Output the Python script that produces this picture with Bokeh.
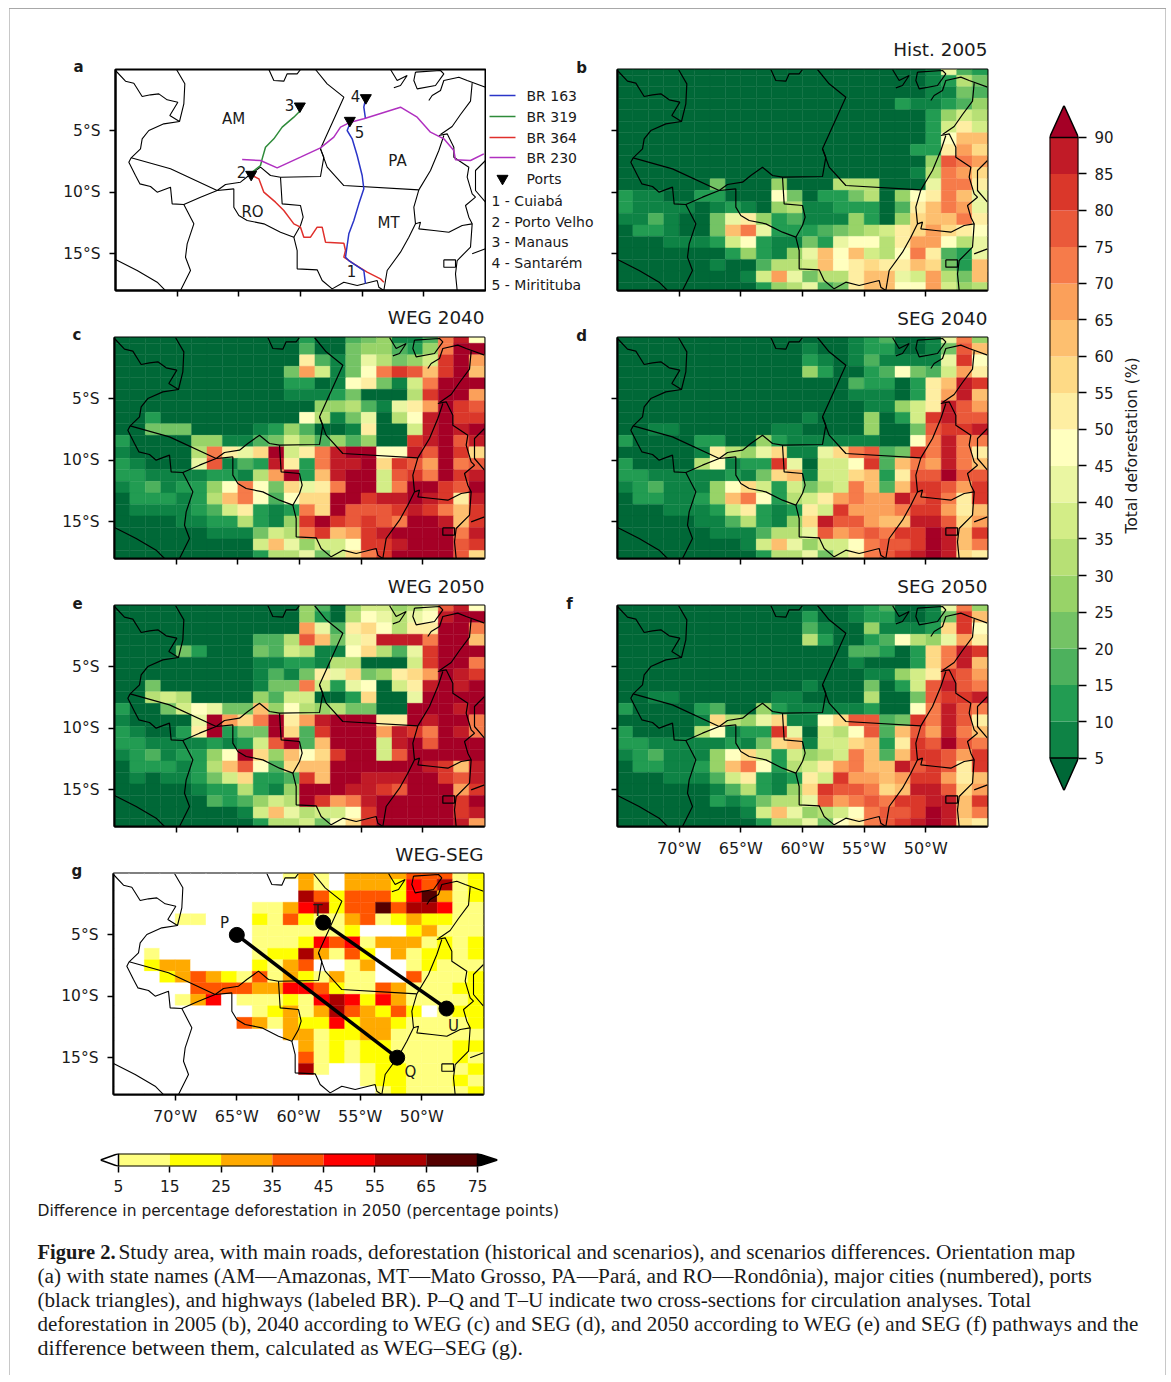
import numpy as np
from bokeh.plotting import figure
from bokeh.layouts import column, row
from bokeh.models import Range1d, FixedTicker, Label, Title
from bokeh.core.properties import value
from bokeh.embed import file_html
from bokeh.resources import INLINE

LON_TICKS = [-70, -65, -60, -55, -50]
LAT_TICKS = [-5, -10, -15]
LON_LABELS = ["70°W", "65°W", "60°W", "55°W", "50°W"]
LAT_LABELS = ["5°S", "10°S", "15°S"]
LEVELS = [5, 10, 15, 20, 25, 30, 35, 40, 45, 50, 55, 60, 65, 70, 75, 80, 85, 90]
DIFF_LEVELS = [5, 15, 25, 35, 45, 55, 65, 75]
DIFF_COLORS = ["#ffffff", "#ffff80", "#ffff00", "#ffaa00", "#ff5500", "#ff0000", "#aa0000", "#550000", "#000000"]
RDYLGN = ["#006837", "#1a9850", "#66bd63", "#a6d96a", "#d9ef8b", "#ffffbf", "#fee08b", "#fdae61", "#f46d43", "#d73027", "#a50026"]

HIST_2005 = [
[3,3,3,3,3,3,3,3,3,3,3,3,3,3,3,3,3,3,3,3,8,43,18,13],
[3,3,3,3,3,3,3,3,3,3,3,3,3,3,3,3,3,3,3,3,8,13,33,23],
[3,3,3,3,3,3,3,3,3,3,3,3,3,3,3,3,3,3,3,3,8,8,23,18],
[3,3,3,3,3,3,3,3,3,3,3,3,3,3,3,3,3,3,13,8,8,13,18,28],
[3,3,3,3,3,3,3,3,3,3,3,3,3,3,3,3,3,3,3,3,13,28,38,33],
[3,3,3,3,3,3,3,3,3,3,3,3,3,3,3,3,3,3,3,3,13,38,53,38],
[3,3,3,3,3,3,3,3,3,3,3,3,3,3,3,3,3,3,3,3,13,48,63,63],
[3,3,3,3,3,3,3,3,3,3,3,3,3,3,3,3,3,3,3,13,13,53,68,58],
[3,3,3,3,3,3,3,3,3,3,3,3,3,3,3,3,3,3,3,3,28,78,73,68],
[3,3,3,3,3,3,3,3,3,3,3,3,3,3,3,3,3,3,3,8,33,73,68,58],
[3,3,3,3,3,3,23,3,3,3,28,3,3,3,33,33,33,3,3,3,43,73,73,53],
[13,8,8,3,3,13,13,3,3,3,48,23,3,13,13,20,33,3,28,48,53,73,63,43],
[13,8,8,8,8,3,8,13,8,3,28,33,8,8,13,13,13,3,18,53,63,73,68,43],
[8,8,18,8,3,3,23,43,53,28,13,18,8,8,8,28,13,3,28,58,63,63,73,53],
[3,13,13,8,3,3,23,63,73,43,13,13,13,18,23,28,33,38,53,58,68,58,53,48],
[3,3,3,8,8,8,13,38,48,13,8,8,23,13,43,48,48,33,53,68,68,48,33,43],
[3,3,3,3,3,3,3,13,28,13,8,28,43,63,48,63,38,33,48,73,53,18,13,43],
[3,3,3,3,3,3,8,3,3,18,33,33,38,63,48,53,58,53,53,63,58,23,13,63],
[3,3,3,3,3,3,3,3,8,38,68,43,23,33,33,53,63,60,43,38,68,33,23,63],
[3,3,3,3,3,3,3,3,3,13,28,33,43,18,23,53,60,63,48,48,68,38,28,33],
]
WEG_2040 = [
[3,3,3,3,3,3,3,3,3,3,3,3,13,3,3,18,23,28,8,8,18,73,88,48],
[3,3,3,3,3,3,3,3,3,3,3,3,18,3,3,23,28,28,18,13,28,73,93,93],
[3,3,3,3,3,3,3,3,3,3,3,3,53,18,8,23,43,33,23,28,38,83,93,68],
[3,3,3,3,3,3,3,3,3,3,3,23,68,38,8,23,48,73,83,78,63,83,93,63],
[3,3,3,3,3,3,3,3,3,3,3,13,13,3,8,48,53,23,8,38,73,93,93,93],
[3,3,3,3,3,3,3,3,3,3,3,8,8,8,13,23,3,3,3,33,83,93,93,68],
[3,3,3,3,3,3,3,3,3,3,3,3,3,28,28,30,18,8,43,53,68,93,83,78],
[3,3,13,3,3,3,3,3,3,3,3,3,48,33,8,23,43,3,33,48,88,93,83,83],
[3,3,23,23,23,3,3,3,3,8,13,28,18,3,3,8,53,3,3,38,88,93,88,93],
[13,3,3,3,3,28,28,8,8,18,23,38,28,18,28,18,28,3,3,83,88,93,78,88],
[8,3,3,3,3,33,73,53,43,58,93,38,53,73,88,93,93,48,48,88,78,93,83,58],
[13,8,3,3,3,43,78,8,18,13,88,53,13,73,88,88,93,58,83,78,68,93,73,78],
[13,13,8,8,8,8,13,13,8,33,68,93,13,60,88,93,93,38,78,83,73,93,83,88],
[8,13,18,8,13,13,28,48,73,48,20,58,43,53,73,93,93,38,73,93,93,83,78,93],
[3,13,13,13,8,13,33,63,73,48,18,48,58,58,93,93,83,88,88,93,88,83,53,88],
[3,8,8,8,8,13,18,38,53,13,8,13,73,58,93,78,78,78,83,88,83,73,63,83],
[3,3,3,3,8,8,13,13,33,13,8,28,83,93,83,78,83,78,73,93,93,88,63,83],
[3,3,3,3,3,3,8,8,8,23,38,33,73,83,63,68,83,88,93,93,93,93,73,88],
[3,3,3,3,3,3,3,3,3,38,63,43,28,38,38,48,83,83,88,93,93,93,78,83],
[3,3,3,3,3,3,3,3,3,13,33,33,43,23,38,58,73,83,93,93,93,93,78,58],
]
SEG_2040 = [
[3,3,3,3,3,3,3,3,3,3,3,3,3,3,3,8,13,18,3,3,8,43,73,28],
[3,3,3,3,3,3,3,3,3,3,3,3,8,3,3,8,13,13,3,3,8,23,78,63],
[3,3,3,3,3,3,3,3,3,3,3,3,13,8,3,8,18,8,8,8,8,43,83,48],
[3,3,3,3,3,3,3,3,3,3,3,3,28,13,3,3,13,18,48,23,18,38,68,53],
[3,3,3,3,3,3,3,3,3,3,3,3,3,3,3,18,13,13,3,13,53,63,88,83],
[3,3,3,3,3,3,3,3,3,3,3,3,3,3,3,8,8,8,3,13,53,68,88,63],
[3,3,3,3,3,3,3,3,3,3,3,3,3,3,3,3,8,8,28,38,53,88,78,68],
[3,3,3,3,3,3,3,3,3,3,3,3,8,3,3,3,28,3,13,38,83,88,78,78],
[3,3,8,8,3,3,3,3,3,3,8,8,3,3,3,3,28,3,3,23,78,83,83,88],
[13,3,3,3,3,13,13,3,3,28,13,8,8,8,8,8,8,3,3,48,73,88,73,73],
[3,3,3,3,3,8,53,33,28,43,58,8,8,43,58,73,78,18,23,83,73,88,73,53],
[13,3,3,3,3,33,48,8,13,13,83,43,3,38,38,48,83,18,63,73,68,88,73,63],
[13,13,8,8,8,8,8,13,8,23,58,63,8,38,38,58,63,13,53,78,78,93,78,78],
[8,13,18,8,8,8,28,48,58,38,13,38,23,33,38,73,63,18,63,83,83,78,68,83],
[3,13,13,8,8,13,28,63,73,48,13,33,38,53,68,73,68,68,88,78,83,73,53,83],
[3,3,3,8,8,8,13,38,53,13,8,13,53,38,83,68,68,68,73,83,83,68,53,63],
[3,3,3,3,3,8,8,18,33,13,8,28,58,88,78,78,68,63,63,88,88,78,58,68],
[3,3,3,3,3,3,8,8,8,18,33,33,43,78,68,73,78,73,83,83,93,88,63,83],
[3,3,3,3,3,3,3,3,8,38,63,43,28,38,38,48,73,78,78,83,93,88,63,73],
[3,3,3,3,3,3,3,3,3,13,33,33,43,23,38,53,73,78,83,88,93,88,58,53],
]
WEG_2050 = [
[3,3,3,3,3,3,3,3,3,3,3,3,28,18,3,28,38,38,28,33,43,78,88,48],
[3,3,3,3,3,3,3,3,3,3,3,3,28,13,3,33,48,43,33,43,48,88,93,93],
[3,3,3,3,3,3,3,3,3,3,3,3,68,43,18,53,58,48,33,53,53,93,93,73],
[3,3,3,3,3,3,3,3,3,18,18,33,78,63,23,43,53,88,88,88,73,93,93,63],
[3,3,3,3,20,13,3,3,3,23,18,38,30,8,8,48,58,30,18,40,83,93,93,93],
[3,3,3,3,3,3,3,3,3,8,8,13,13,8,30,30,3,3,3,38,83,93,93,73],
[3,3,3,3,3,3,3,3,3,8,18,8,23,53,43,58,23,28,53,58,68,93,88,83],
[3,3,23,3,3,3,3,3,3,8,23,23,73,38,13,43,48,3,38,53,88,93,88,93],
[3,3,33,38,33,3,3,3,3,28,18,38,38,3,3,13,58,3,3,43,93,93,93,93],
[13,3,3,23,38,48,43,23,23,63,28,48,33,28,33,23,23,3,3,93,93,93,88,93],
[8,3,3,3,3,43,93,68,58,73,93,53,68,88,93,93,93,53,53,93,88,93,93,73],
[13,8,3,3,13,53,93,13,23,23,93,58,18,83,93,93,93,68,88,83,73,93,88,73],
[13,13,8,8,8,8,13,8,13,38,78,93,18,63,93,93,93,38,88,93,78,93,93,93],
[8,13,18,8,13,13,28,48,93,58,28,63,48,58,83,93,93,38,78,93,93,93,93,93],
[3,13,13,13,8,13,33,63,78,48,18,58,63,63,93,93,93,93,93,93,88,83,63,88],
[3,8,3,8,8,13,23,38,58,13,13,18,83,63,93,93,88,88,88,93,93,83,78,88],
[3,3,3,3,3,8,13,13,33,13,8,28,93,93,93,88,88,83,78,93,93,93,68,83],
[3,3,3,3,3,3,18,13,18,28,38,33,93,83,68,73,88,93,93,93,93,93,83,93],
[3,3,3,3,3,3,3,3,8,38,63,43,33,38,38,48,83,93,93,93,93,93,83,88],
[3,3,3,3,3,3,3,3,3,13,33,33,38,23,48,58,83,93,93,93,93,93,88,68],
]
SEG_2050 = [
[3,3,3,3,3,3,3,3,3,3,3,3,3,3,3,8,13,18,3,3,8,43,73,28],
[3,3,3,3,3,3,3,3,3,3,3,3,13,3,3,8,13,13,3,3,8,23,83,63],
[3,3,3,3,3,3,3,3,3,3,3,3,18,8,3,3,28,8,8,8,13,58,83,48],
[3,3,3,3,3,3,3,3,3,3,3,3,33,13,3,3,13,18,48,33,28,43,68,53],
[3,3,3,3,3,3,3,3,3,3,3,3,3,3,3,18,18,13,3,13,58,73,88,83],
[3,3,3,3,3,3,3,3,3,3,3,3,3,3,3,8,3,3,3,13,58,73,88,63],
[3,3,3,3,3,3,3,3,3,3,3,3,3,3,3,3,8,8,28,38,53,83,78,68],
[3,3,3,3,3,3,3,3,3,3,3,3,8,3,3,3,23,3,13,38,78,88,78,73],
[3,3,8,8,3,3,3,3,3,3,8,8,3,3,3,3,33,3,3,23,78,83,83,88],
[13,3,3,3,3,13,18,3,3,28,13,8,8,8,8,8,13,3,3,48,73,88,78,73],
[3,3,3,3,3,8,58,33,28,43,58,8,8,48,58,78,78,18,23,83,73,88,78,53],
[13,3,3,3,3,33,48,8,13,13,83,43,3,38,33,48,78,18,63,78,68,88,73,63],
[13,13,8,8,8,8,8,13,8,23,58,63,8,38,38,58,63,13,53,83,78,93,78,73],
[8,13,18,8,8,8,28,48,58,38,13,38,28,33,38,73,63,18,63,83,83,78,68,83],
[3,13,13,8,8,13,28,63,73,48,13,33,38,53,68,73,63,63,88,78,83,78,53,83],
[3,3,3,8,8,8,18,38,53,13,8,13,53,38,83,68,68,63,68,83,83,68,53,63],
[3,3,3,3,3,3,8,18,33,13,8,28,58,83,78,78,73,58,63,88,88,78,58,68],
[3,3,3,3,3,3,13,8,13,23,33,33,43,78,68,73,78,73,83,83,88,88,63,83],
[3,3,3,3,3,3,3,3,8,38,63,43,28,33,38,48,73,78,78,83,93,88,63,73],
[3,3,3,3,3,3,3,3,3,13,33,33,43,23,48,53,73,78,83,88,93,88,58,53],
]
WEG_MINUS_SEG = [
[2,2,2,2,2,2,2,2,2,2,2,10,30,10,2,30,30,30,30,40,40,40,10,20],
[2,2,2,2,2,2,2,2,2,2,2,2,30,10,2,30,30,30,20,50,40,60,10,20],
[2,2,2,2,2,2,2,2,2,2,2,2,60,40,20,40,40,40,20,50,70,30,10,20],
[2,2,2,2,2,2,2,2,2,10,10,30,50,60,20,40,40,70,40,60,60,50,10,10],
[2,2,2,2,10,10,2,2,2,20,10,40,20,10,10,30,40,10,20,30,20,20,10,10],
[2,2,2,2,2,2,2,2,2,10,10,10,10,10,10,20,2,2,2,20,30,10,10,10],
[2,2,2,2,2,2,2,2,2,10,10,10,20,50,40,50,10,30,30,30,10,20,10,20],
[2,2,10,2,2,2,2,2,2,10,20,20,60,30,10,40,20,2,30,10,20,20,10,20],
[2,2,20,30,30,2,2,2,2,20,10,30,40,2,2,10,30,2,2,10,20,10,10,10],
[2,2,2,20,30,40,30,20,10,40,10,30,20,10,30,10,10,2,2,40,10,10,10,20],
[2,2,2,2,2,40,40,40,40,30,30,50,50,40,20,10,10,40,30,10,10,10,20,20],
[2,2,2,2,10,30,50,2,10,10,10,20,10,50,60,50,20,50,30,10,10,10,10,20],
[2,2,2,2,2,2,2,2,2,10,20,30,10,30,60,40,30,20,40,20,2,10,20,20],
[2,2,2,2,2,2,2,2,40,30,10,30,20,20,50,20,30,30,20,10,10,10,10,20],
[2,2,2,2,2,2,2,2,2,2,2,30,30,10,20,20,30,30,10,10,10,10,10,10],
[2,2,2,2,2,2,2,2,2,2,2,2,30,10,20,10,20,20,10,10,10,10,20,20],
[2,2,2,2,2,2,2,2,2,2,2,2,40,10,20,10,20,20,10,10,10,10,20,10],
[2,2,2,2,2,2,2,2,2,2,2,2,60,10,2,2,10,20,20,10,10,10,10,20],
[2,2,2,2,2,2,2,2,2,2,2,2,2,2,2,2,10,20,20,10,10,10,20,10],
[2,2,2,2,2,2,2,2,2,2,2,2,2,2,2,2,2,10,20,10,10,10,10,20],
]

BORDERS = [
[(45,30),(75,62),(100,68),(125,108),(150,103),(175,100),(200,118),(232,125),(208,165),(237,183),(250,130),(253,70),(228,27)],
[(237,183),(190,190),(145,210),(125,235),(120,265),(92,292),(85,305),(105,345),(118,370),(150,378),(170,395),(210,380),(215,430),(250,432),(300,410),(350,390),(400,385)],
[(92,292),(210,325),(350,390)],
[(250,432),(280,490),(260,550),(255,590),(270,630),(240,690)],
[(45,597),(110,630),(170,665),(195,690)],
[(350,390),(375,372),(420,365),(445,345),(480,320),(510,345),(540,350),(660,348),(670,290),(660,265),(730,110),(680,70),(645,27)],
[(540,350),(545,430),(600,435),(608,470),(600,495),(580,530),(540,515),(490,490),(440,480),(415,465),(400,440),(400,385)],
[(580,530),(590,570),(590,625),(650,628),(665,660),(695,685),(730,665),(770,675),(830,660),(835,680),(850,690)],
[(660,265),(680,320),(730,375),(955,388)],
[(955,388),(940,440),(945,490),(925,530),(900,575),(860,630),(850,690)],
[(945,490),(960,485),(955,505),(1000,510),(1045,515),(1085,495),(1115,490)],
[(955,388),(990,330),(1015,270),(1030,225)],
[(1015,225),(1040,220),(1060,260),(1060,290),(1105,320),(1100,350),(1115,400),(1125,410),(1095,435),(1105,470),(1115,490),(1110,560),(1070,600),(1065,640),(1070,690)],
[(1155,300),(1125,330),(1125,390),(1155,425)],
[(1115,580),(1155,565)],
[(1020,222),(1055,198),(1080,162),(1110,122),(1115,68)],
[(985,120),(995,105),(1020,90),(1030,60),(1075,50),(1100,60),(1155,80)],
[(945,35),(1020,30),(1030,40),(1005,75),(950,85),(940,60),(945,35)],
[(870,27),(890,60),(920,45),(900,75),(880,82)],
[(505,27),(520,60),(550,62),(560,40),(590,40),(600,27)],
[(1030,598),(1065,598),(1065,620),(1030,620),(1030,598)],
]
BR163 = [(795,115),(790,140),(795,175)]
BR163_SOUTH = [(748,190),(740,210),(755,235),(770,285),(785,345),(790,385),(775,430),(760,480),(745,520),(740,555),(735,590),(745,600),(790,630),(795,670)]
BR319 = [(600,150),(580,170),(545,200),(520,235),(495,260),(485,295),(480,315),(455,335)]
BR364 = [(455,345),(475,355),(490,395),(525,425),(550,450),(580,490),(600,500),(610,530),(630,530),(650,500),(665,500),(675,545),(730,548),(735,570),(730,590),(760,610),(800,635),(840,655),(850,665)]
BR230 = [(425,297),(480,300),(530,322),(600,290),(660,262),(700,230),(720,200),(750,185),(790,175),(900,140),(950,170),(990,215),(1030,235),(1060,270),(1065,298),(1110,300),(1150,280)]
PORTS = [(452,342),(598,137),(796,112),(748,180)]
ROAD_NAMES = ["BR 163", "BR 319", "BR 364", "BR 230"]
ROAD_COLORS = ["#2a35c8", "#2e8b3a", "#e0302c", "#b030c0"]
CITY_LABELS = ["1 - Cuiabá", "2 - Porto Velho", "3 - Manaus", "4 - Santarém", "5 - Miritituba"]
SECTION_PQ_LON = [-65, -52]
SECTION_PQ_LAT = [-5, -15]
SECTION_TU_LON = [-58, -48]
SECTION_TU_LAT = [-4, -11]
CAPTION = [
"Study area, with main roads, deforestation (historical and scenarios), and scenarios differences. Orientation map",
"(a) with state names (AM—Amazonas, MT—Mato Grosso, PA—Pará, and RO—Rondônia), major cities (numbered), ports",
"(black triangles), and highways (labeled BR). P–Q and T–U indicate two cross-sections for circulation analyses. Total",
"deforestation in 2005 (b), 2040 according to WEG (c) and SEG (d), and 2050 according to WEG (e) and SEG (f) pathways and the",
"difference between them, calculated as WEG–SEG (g).",
]

SANS = "DejaVu Sans"
INK = "#1a1a1a"

def trace_lon(pts): return [-75 + (a - 45) / 37 for a, b in pts]
def trace_lat(pts): return [-(b - 27) / 36.83 for a, b in pts]

def palette19():
    anchors = np.array([[int(c[i:i+2], 16) for i in (1, 3, 5)] for c in RDYLGN], float)
    t = np.linspace(0, 1, 19)
    xs = np.linspace(0, 1, 11)
    return ["#%02x%02x%02x" % tuple(int(round(np.interp(v, xs, anchors[:, k]))) for k in range(3)) for v in t]
PAL = palette19()

def panel(left, right, top, bottom, show_x=False, show_y=False, title=None, letter=None, title_gap=0, letter_gap=-8):
    p = figure(frame_width=370, frame_height=221, x_range=Range1d(-75, -45), y_range=Range1d(-18, 0),
               output_backend="svg", toolbar_location=None, tools="", title=None, border_fill_color=None, frame_align=False,
               min_border_left=left, min_border_right=right, min_border_top=top, min_border_bottom=bottom)
    p.grid.visible = False
    p.outline_line_color = "black"
    p.outline_line_width = 2
    p.background_fill_color = "white"
    for ax, ticks, labs, show, size, gap in ((p.xaxis[0], LON_TICKS, LON_LABELS, show_x, "16px", 6), (p.yaxis[0], LAT_TICKS, LAT_LABELS, show_y, "15.5px", 9)):
        ax.ticker = FixedTicker(ticks=ticks)
        ax.major_tick_in = 0
        ax.major_tick_out = 6
        ax.major_tick_line_width = 1.5
        ax.major_tick_line_color = "black"
        ax.minor_tick_line_color = None
        ax.axis_line_color = "black"
        ax.axis_line_width = 2
        ax.major_label_standoff = gap if show else 0
        ax.major_label_text_font = SANS
        ax.major_label_text_color = INK
        ax.major_label_overrides = {t: (l if show else "") for t, l in zip(ticks, labs)}
        ax.major_label_text_font_size = size if show else "1px"
    if letter:
        p.add_layout(Title(text=letter, align="left", offset=-42, standoff=letter_gap, text_font=SANS, text_font_size="15px",
                           text_font_style="bold", text_color=INK), "above")
    if title:
        p.add_layout(Title(text=title, align="right", standoff=title_gap, text_font=SANS, text_font_size="18.4px",
                           text_font_style="normal", text_color=INK), "above")
    return p

def put(p, fx, fy, x, y, text, size=15, align="center"):
    lon = -75 + (x - fx) / 370 * 30
    lat = -(y - fy) / 221 * 18
    p.add_layout(Label(x=lon, y=lat, text=text, text_font=SANS, text_font_size=f"{size}px", text_color=INK,
                       text_align=align, text_baseline="middle"))

def bounds(p, width=1.2):
    p.multi_line(xs=[trace_lon(b) for b in BORDERS], ys=[trace_lat(b) for b in BORDERS], line_color="black", line_width=width)

def cells(p, data, levels, colors):
    arr = np.array(data, float)
    idx = np.digitize(arr, levels)
    lefts, rights, tops, bots, cols = [], [], [], [], []
    for r in range(arr.shape[0]):
        for c in range(arr.shape[1]):
            lefts.append(-75 + 1.25 * c); rights.append(-75 + 1.25 * (c + 1))
            tops.append(0.47 - 0.9375 * r); bots.append(0.47 - 0.9375 * (r + 1))
            cols.append(colors[idx[r, c]])
    p.quad(left=lefts, right=rights, top=tops, bottom=bots, fill_color=cols, line_color=cols, line_width=0.4)

def strip(width, height):
    """A bare figure whose frame is the whole cell; its coordinates count pixels from its top-left corner."""
    s = figure(width=width, height=height, x_range=Range1d(0, width), y_range=Range1d(height, 0), output_backend="svg",
               toolbar_location=None, tools="", min_border=0, border_fill_color=None, background_fill_color=None, frame_align=False)
    s.axis.visible = False
    s.grid.visible = False
    s.outline_line_color = None
    return s

def stext(s, xs, ys, texts, size, font=SANS, align="left", style="normal", angle=0):
    s.text(x=xs, y=ys, text=texts, text_font=value(font), text_font_size=f"{size}px", text_font_style=style,
           text_align=align, text_baseline="middle", text_color=INK, angle=angle)

# panel a
a = panel(115, 1, 69, 10, show_y=True, letter="a", letter_gap=-12)
bounds(a, 1.1)
for pts, col in zip((BR163, BR319, BR364, BR230), ROAD_COLORS):
    a.line(trace_lon(pts), trace_lat(pts), line_color=col, line_width=1.5)
a.line(trace_lon(BR163_SOUTH), trace_lat(BR163_SOUTH), line_color=ROAD_COLORS[0], line_width=1.5)
a.scatter(trace_lon(PORTS), trace_lat(PORTS), marker="inverted_triangle", size=11, fill_color="black", line_color="black")
for x, y, t in [(233, 118, "AM"), (397, 160, "PA"), (252, 211, "RO"), (388, 222, "MT"), (289, 104, "3"), (355, 95, "4"), (359, 131, "5"), (241, 171, "2"), (351, 270, "1")]:
    put(a, 115, 69, x, y, t, 15)

# legend and the letters of the right-hand panels sit in strips between the two columns
sa = strip(114, 300)
for yy, col in zip([95, 116, 137, 157], ROAD_COLORS):
    sa.line([3, 29], [yy, yy], line_color=col, line_width=1.5)
sa.scatter([16], [178], marker="inverted_triangle", size=11, fill_color="black", line_color="black")
stext(sa, [40] * 5, [95, 116, 137, 157, 178], ROAD_NAMES + ["Ports"], 14)
stext(sa, [5] * 5, [200, 221, 241, 262, 284], CITY_LABELS, 14)
stext(sa, [95], [67], ["b"], 15, align="center", style="bold")

c = panel(114, 2, 37, 10, show_y=True, title="WEG 2040", letter="c", title_gap=3, letter_gap=-12)
cells(c, WEG_2040, LEVELS, PAL); bounds(c)
sc = strip(114, 268)
stext(sc, [95], [35], ["d"], 15, align="center", style="bold")

e = panel(114, 2, 37, 10, show_y=True, title="WEG 2050", letter="e", title_gap=4, letter_gap=-7)
cells(e, WEG_2050, LEVELS, PAL); bounds(e)
se = strip(114, 268)
stext(se, [83], [35], ["f"], 15, align="center", style="bold")

g = panel(113, 3, 37, 36, show_x=True, show_y=True, title="WEG-SEG", letter="g", title_gap=2, letter_gap=-12)
cells(g, WEG_MINUS_SEG, DIFF_LEVELS, DIFF_COLORS); bounds(g, 1.1)
for lo, la in ((SECTION_PQ_LON, SECTION_PQ_LAT), (SECTION_TU_LON, SECTION_TU_LAT)):
    g.line(lo, la, line_color="black", line_width=3.5)
    g.scatter(lo, la, size=15, fill_color="black", line_color="black")
for x, y, t in [(224, 922, "P"), (317, 910, "T"), (410, 1071, "Q"), (453, 1025, "U")]:
    put(g, 113, 873, x, y, t, 15)

# horizontal colour bar
hb = figure(frame_width=397, frame_height=13, x_range=Range1d(1.49, 78.9), y_range=Range1d(0, 1),
            output_backend="svg", toolbar_location=None, tools="", border_fill_color=None, frame_align=False,
            min_border_left=100, min_border_right=3, min_border_top=23, min_border_bottom=32)
hb.grid.visible = False
hb.outline_line_color = None
hb.yaxis.visible = False
hb.xaxis.ticker = FixedTicker(ticks=DIFF_LEVELS)
hb.xaxis.major_tick_in = 0
hb.xaxis.major_tick_out = 6
hb.xaxis.major_tick_line_width = 1.5
hb.xaxis.axis_line_color = None
hb.xaxis.minor_tick_line_color = None
hb.xaxis.major_label_standoff = 7
hb.xaxis.major_label_text_font = SANS
hb.xaxis.major_label_text_font_size = "15.5px"
hb.xaxis.major_label_text_color = INK
hb.quad(left=DIFF_LEVELS[:-1], right=DIFF_LEVELS[1:], top=1, bottom=0, fill_color=DIFF_COLORS[1:-1], line_color=None)
hb.patch([5, 1.49, 5], [0, 0.5, 1], fill_color="white", line_color="black", line_width=1.5)
hb.patch([75, 78.9, 75], [0, 0.5, 1], fill_color="black", line_color="black", line_width=1.5)
hb.line([5, 75], [1, 1], line_color="black", line_width=2)
hb.line([5, 75], [0, 0], line_color="black", line_width=2)

left_col = column(row(a, sa, spacing=0), row(c, sc, spacing=0), row(e, se, spacing=0), g, hb, spacing=0)

# right column
b = panel(17, 13, 69, 7, title="Hist. 2005", title_gap=19)
cells(b, HIST_2005, LEVELS, PAL); bounds(b)
d = panel(17, 13, 40, 7, title="SEG 2040", title_gap=17)
cells(d, SEG_2040, LEVELS, PAL); bounds(d)
f = panel(17, 13, 40, 40, show_x=True, title="SEG 2050", title_gap=17)
cells(f, SEG_2050, LEVELS, PAL); bounds(f)
right_col = column(b, d, f, spacing=0)

# vertical colour bar
vb = figure(frame_width=29, frame_height=685, x_range=Range1d(0, 1), y_range=Range1d(0.55, 94.38),
            output_backend="svg", toolbar_location=None, tools="", border_fill_color=None, frame_align=False,
            min_border_left=49, min_border_right=37, min_border_top=105, min_border_bottom=10, y_axis_location="right")
vb.grid.visible = False
vb.outline_line_color = None
vb.xaxis.visible = False
ax = vb.yaxis[0]
ax.ticker = FixedTicker(ticks=LEVELS)
ax.major_tick_in = 0
ax.major_tick_out = 8
ax.major_tick_line_width = 1.5
ax.axis_line_color = None
ax.minor_tick_line_color = None
ax.major_label_standoff = 8
ax.major_label_text_font = SANS
ax.major_label_text_font_size = "15px"
ax.major_label_text_color = INK
vb.quad(left=0, right=1, bottom=LEVELS[:-1], top=LEVELS[1:], fill_color=PAL[1:-1], line_color=None)
vb.patch([0, 1, 0.5], [5, 5, 0.55], fill_color=PAL[0], line_color="black", line_width=1.5)
vb.patch([0, 1, 0.5], [90, 90, 94.38], fill_color=PAL[-1], line_color="black", line_width=1.5)
vb.line([0, 0], [5, 90], line_color="black", line_width=2)
vb.line([1, 1], [5, 90], line_color="black", line_width=2)

vl = strip(56, 800)
stext(vl, [15], [445], ["Total deforestation (%)"], 15.5, align="center", angle=np.pi / 2)

top = row(left_col, right_col, vb, vl, spacing=0)

# caption, headed by the title of the lower colour bar
cap = strip(1171, 177)
stext(cap, [37], [12], ["Difference in percentage deforestation in 2050 (percentage points)"], 15.5)
stext(cap, [37], [53], ["Figure 2."], 20.5, font="Liberation Serif", style="bold")
for x, y, line, size in zip([118, 37, 37, 37, 37], [53, 77, 101, 125, 149], CAPTION, [21.35, 21.3, 21.1, 21.05, 22]):
    stext(cap, [x], [y], [line], size, font="Liberation Serif")

root = column(top, cap, spacing=0, styles={
    "background": "linear-gradient(#a8a8a8,#a8a8a8) 9px 8px / 1157px 1px no-repeat,"
                  "linear-gradient(#c8c8c8,#c8c8c8) 9px 8px / 1px 1374px no-repeat,"
                  "linear-gradient(#c8c8c8,#c8c8c8) 1165px 8px / 1px 1374px no-repeat"})
open("out.html", "w").write(file_html(root, INLINE))
